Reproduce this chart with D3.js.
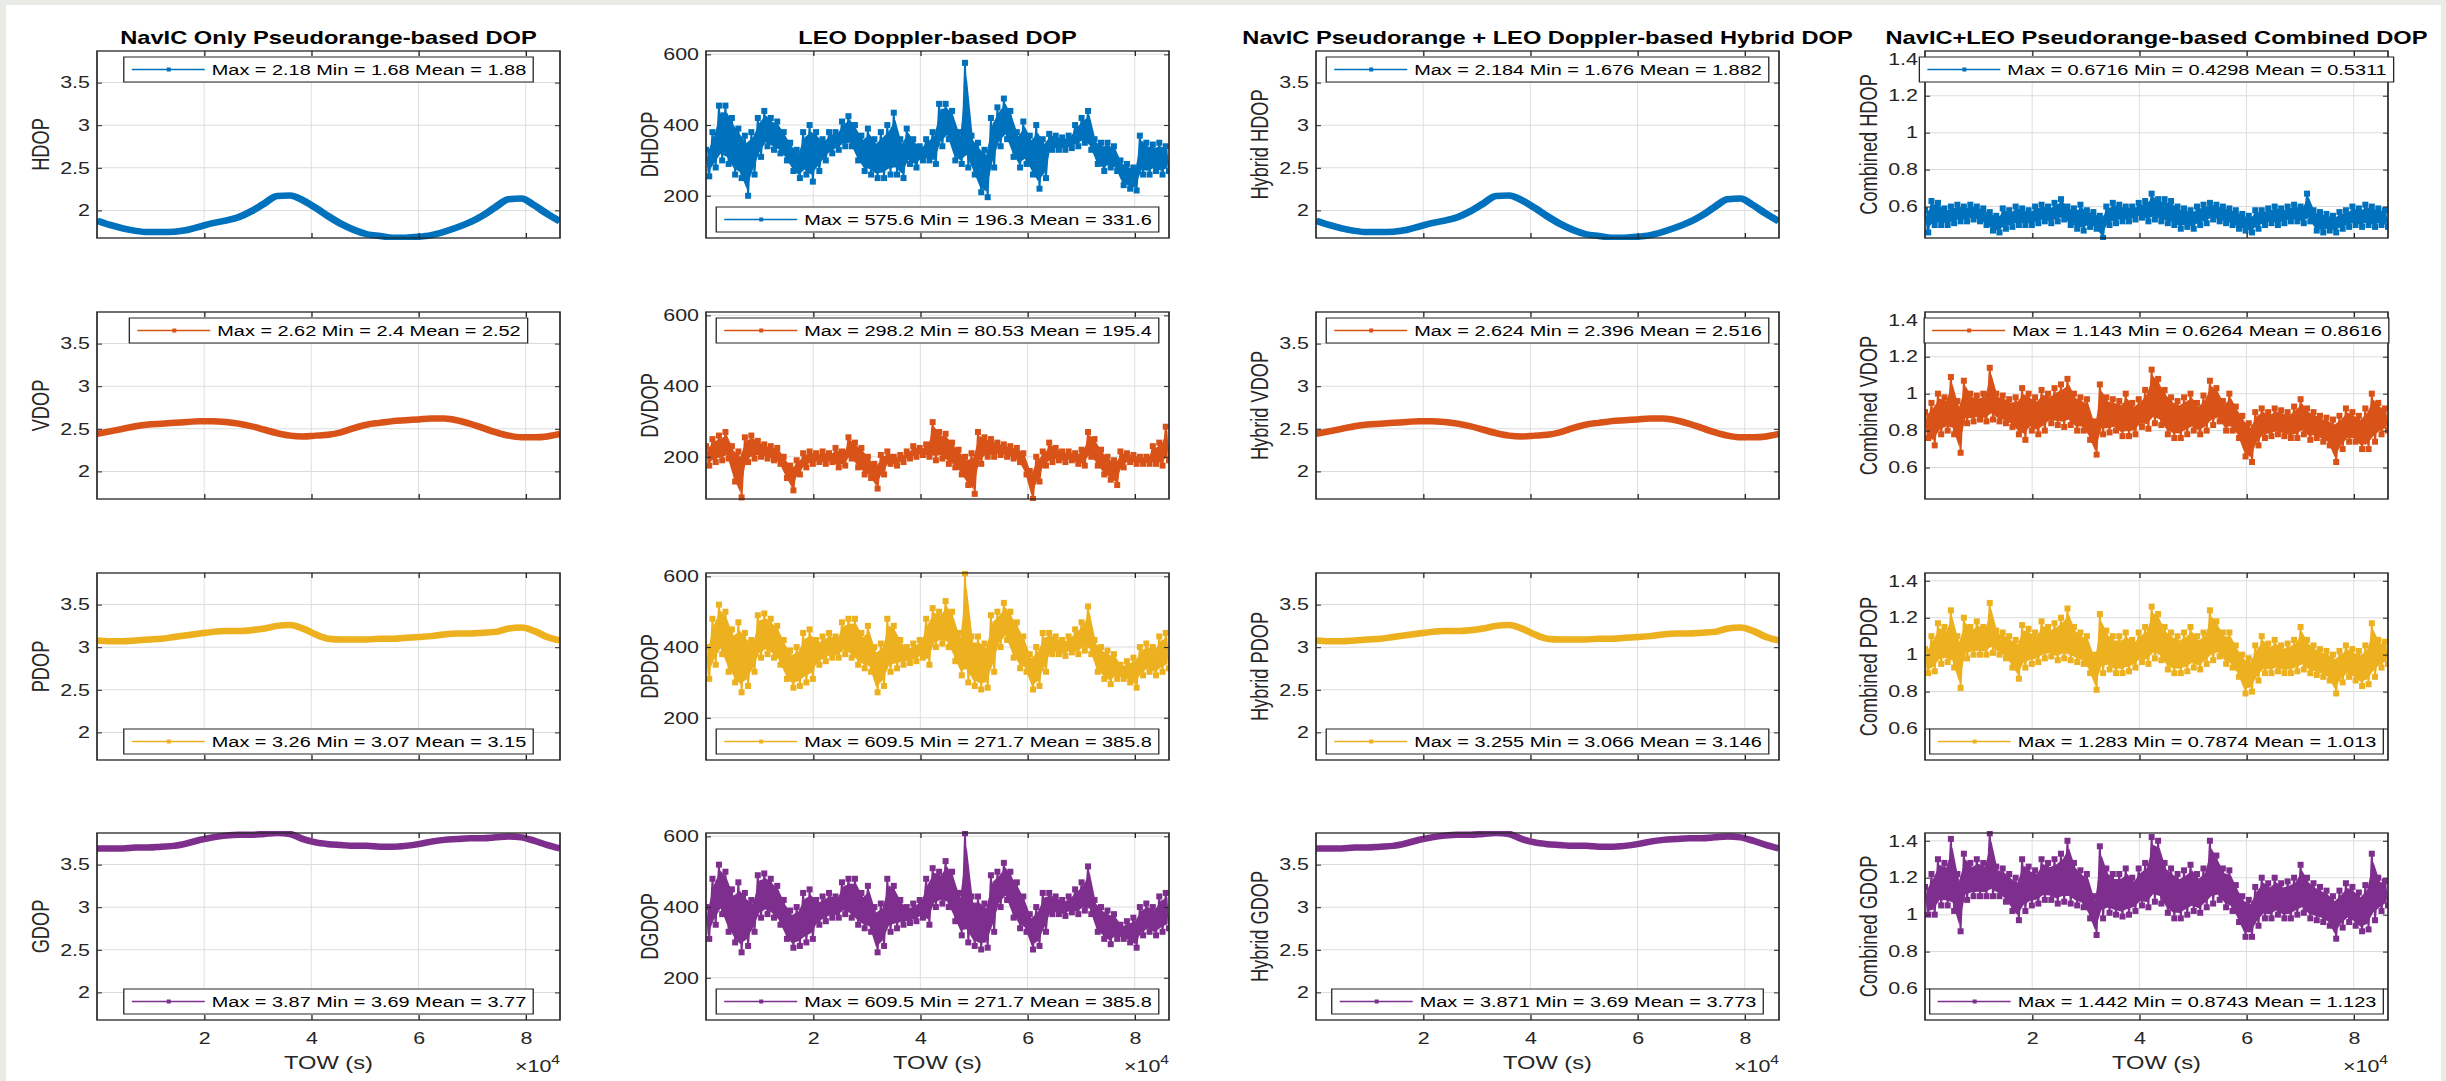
<!DOCTYPE html>
<html>
<head>
<meta charset="utf-8">
<script src="https://cdn.jsdelivr.net/npm/d3@7/dist/d3.min.js"></script>
<style>
body { margin: 0; background: #fff; }
svg { display: block; font-family: "Liberation Sans", Arial, Helvetica, sans-serif; }
</style>
</head>
<body>
<svg id="fig" width="2446" height="1081"></svg>
<script>
// ---- data ----
let colTitles = ['NavIC Only Pseudorange-based DOP', 'LEO Doppler-based DOP',
	'NavIC Pseudorange + LEO Doppler-based Hybrid DOP', 'NavIC+LEO Pseudorange-based Combined DOP'];

let yLabels = [
	['HDOP', 'VDOP', 'PDOP', 'GDOP'],
	['DHDOP', 'DVDOP', 'DPDOP', 'DGDOP'],
	['Hybrid HDOP', 'Hybrid VDOP', 'Hybrid PDOP', 'Hybrid GDOP'],
	['Combined HDOP', 'Combined VDOP', 'Combined PDOP', 'Combined GDOP']
];

let legendTexts = [
	['Max = 2.18 Min = 1.68 Mean = 1.88', 'Max = 2.62 Min = 2.4 Mean = 2.52', 'Max = 3.26 Min = 3.07 Mean = 3.15', 'Max = 3.87 Min = 3.69 Mean = 3.77'],
	['Max = 575.6 Min = 196.3 Mean = 331.6', 'Max = 298.2 Min = 80.53 Mean = 195.4', 'Max = 609.5 Min = 271.7 Mean = 385.8', 'Max = 609.5 Min = 271.7 Mean = 385.8'],
	['Max = 2.184 Min = 1.676 Mean = 1.882', 'Max = 2.624 Min = 2.396 Mean = 2.516', 'Max = 3.255 Min = 3.066 Mean = 3.146', 'Max = 3.871 Min = 3.69 Mean = 3.773'],
	['Max = 0.6716 Min = 0.4298 Mean = 0.5311', 'Max = 1.143 Min = 0.6264 Mean = 0.8616', 'Max = 1.283 Min = 0.7874 Mean = 1.013', 'Max = 1.442 Min = 0.8743 Mean = 1.123']
];
// legend at bottom (1) or top (0) of each axes
let legendSouth = [[0, 0, 1, 1], [1, 0, 1, 1], [0, 0, 1, 1], [0, 0, 1, 1]];

let xTicks = [20000, 40000, 60000, 80000];
let xTickLabels = ['2', '4', '6', '8'];
let yDomains = [[1.676, 3.871], [80.53, 609.5], [1.676, 3.871], [0.4298, 1.442]];
let yTicks = [[2, 2.5, 3, 3.5], [200, 400, 600], [2, 2.5, 3, 3.5], [0.6, 0.8, 1, 1.2, 1.4]];
let colors = ['#0072BD', '#D95319', '#EDB120', '#7E2F8E'];

// smooth NavIC curves, one value every 2400 s (hybrid curves coincide with these)
let smoothTow = d3.range(37).map(i => i * 2400);
let navicHdop = [1.88, 1.83, 1.79, 1.76, 1.745, 1.745, 1.75, 1.77, 1.81, 1.85, 1.88, 1.92, 1.99, 2.08, 2.17, 2.175, 2.12, 2.03, 1.93,
	1.84, 1.77, 1.72, 1.70, 1.68, 1.68, 1.69, 1.71, 1.75, 1.80, 1.86, 1.94, 2.04, 2.13, 2.14, 2.06, 1.96, 1.87];
let navicVdop = [2.44, 2.47, 2.50, 2.53, 2.55, 2.56, 2.57, 2.58, 2.59, 2.59, 2.58, 2.56, 2.53, 2.49, 2.45, 2.42, 2.41, 2.42, 2.43,
	2.46, 2.51, 2.55, 2.57, 2.59, 2.60, 2.61, 2.62, 2.62, 2.60, 2.56, 2.51, 2.46, 2.42, 2.40, 2.40, 2.41, 2.44];
let navicPdop = [3.08, 3.07, 3.07, 3.08, 3.09, 3.10, 3.12, 3.14, 3.16, 3.18, 3.19, 3.19, 3.20, 3.22, 3.25, 3.26, 3.22, 3.15, 3.10,
	3.09, 3.09, 3.09, 3.10, 3.10, 3.11, 3.12, 3.13, 3.15, 3.16, 3.16, 3.17, 3.18, 3.22, 3.23, 3.19, 3.12, 3.08];
let navicGdop = [3.69, 3.69, 3.69, 3.70, 3.70, 3.71, 3.72, 3.75, 3.79, 3.82, 3.84, 3.85, 3.85, 3.86, 3.87, 3.86, 3.80, 3.76, 3.74,
	3.73, 3.72, 3.72, 3.71, 3.71, 3.72, 3.74, 3.77, 3.79, 3.80, 3.81, 3.81, 3.82, 3.83, 3.82, 3.78, 3.73, 3.69];

// noisy series: upper / lower sample of each 1200 s slot
let noisyTow = d3.range(144).map(i => i * 86400 / 143);
let leoDhdopHi = [330, 380, 455, 455, 420, 390, 370, 380, 420, 440, 420, 410, 380, 350, 330, 380, 400, 380, 360, 380,
	380, 410, 425, 400, 370, 390, 360, 380, 400, 435, 360, 390, 360, 340, 360, 380, 460, 460, 440, 380,
	576, 370, 350, 330, 420, 450, 475, 440, 380, 410, 370, 400, 360, 375, 370, 365, 370, 400, 420, 440,
	360, 350, 350, 340, 300, 290, 280, 370, 350, 345, 350, 340];
let leoDhdopLo = [255, 280, 300, 290, 260, 250, 200, 260, 310, 340, 330, 320, 300, 270, 250, 260, 240, 270, 300, 320,
	330, 340, 340, 300, 270, 260, 250, 250, 260, 260, 250, 290, 280, 300, 300, 290, 340, 360, 300, 290,
	280, 260, 210, 196, 280, 340, 360, 310, 280, 290, 260, 220, 250, 330, 330, 330, 335, 340, 350, 330,
	290, 270, 280, 270, 230, 220, 215, 260, 260, 270, 260, 270];
let leoDvdopHi = [230, 250, 260, 270, 230, 215, 255, 260, 245, 235, 230, 225, 200, 175, 190, 210, 215, 210, 215, 210,
	225, 215, 255, 240, 225, 200, 180, 205, 215, 200, 205, 215, 230, 225, 235, 298, 270, 265, 240, 220,
	200, 210, 270, 255, 250, 240, 235, 230, 225, 210, 160, 200, 215, 240, 225, 215, 215, 210, 220, 270,
	250, 220, 200, 190, 215, 210, 205, 200, 200, 230, 240, 285];
let leoDvdopLo = [175, 185, 190, 195, 130, 85, 185, 195, 200, 195, 190, 180, 140, 105, 150, 170, 180, 185, 180, 185,
	170, 175, 195, 170, 150, 140, 110, 150, 180, 175, 185, 195, 200, 205, 200, 190, 195, 180, 170, 150,
	120, 95, 180, 200, 200, 205, 200, 195, 185, 150, 81, 130, 175, 185, 190, 185, 190, 180, 175, 200,
	175, 150, 135, 120, 170, 185, 180, 180, 180, 180, 175, 190];
// DPDOP and DGDOP are identical in the figure
let leoDpdopHi = [400, 480, 520, 500, 450, 470, 440, 420, 490, 495, 480, 460, 420, 390, 400, 440, 450, 420, 430, 440,
	430, 470, 480, 480, 440, 460, 400, 410, 480, 460, 420, 400, 410, 420, 480, 510, 500, 530, 500, 440,
	609, 430, 430, 410, 490, 500, 525, 500, 470, 430, 380, 400, 440, 440, 430, 420, 430, 450, 470, 515,
	420, 400, 390, 380, 350, 360, 370, 400, 410, 400, 430, 440];
let leoDpdopLo = [310, 350, 380, 330, 300, 272, 290, 330, 370, 380, 370, 350, 310, 285, 290, 300, 310, 350, 360, 370,
	370, 380, 370, 350, 340, 330, 272, 290, 330, 340, 350, 355, 360, 370, 350, 400, 410, 400, 360, 320,
	300, 290, 280, 285, 330, 400, 420, 370, 340, 330, 280, 290, 330, 380, 380, 375, 385, 380, 390, 380,
	330, 310, 295, 310, 310, 300, 285, 320, 330, 320, 330, 340];

let combHdopHi = [0.58, 0.63, 0.62, 0.59, 0.60, 0.61, 0.60, 0.61, 0.60, 0.59, 0.57, 0.55, 0.59, 0.58, 0.60, 0.59, 0.58, 0.60, 0.61, 0.60,
	0.62, 0.64, 0.60, 0.59, 0.61, 0.58, 0.57, 0.55, 0.60, 0.62, 0.61, 0.60, 0.60, 0.62, 0.63, 0.67, 0.64, 0.64, 0.63, 0.60,
	0.59, 0.58, 0.60, 0.61, 0.62, 0.61, 0.60, 0.59, 0.58, 0.56, 0.55, 0.58, 0.58, 0.59, 0.60, 0.59, 0.60, 0.61, 0.60, 0.67,
	0.58, 0.57, 0.56, 0.55, 0.57, 0.58, 0.60, 0.59, 0.61, 0.60, 0.59, 0.58];
let combHdopLo = [0.46, 0.50, 0.50, 0.50, 0.51, 0.52, 0.52, 0.53, 0.52, 0.50, 0.47, 0.46, 0.48, 0.49, 0.50, 0.50, 0.50, 0.51, 0.52, 0.51,
	0.52, 0.53, 0.50, 0.48, 0.47, 0.49, 0.48, 0.43, 0.50, 0.51, 0.52, 0.52, 0.53, 0.54, 0.52, 0.53, 0.52, 0.51, 0.50, 0.48,
	0.49, 0.48, 0.50, 0.51, 0.53, 0.52, 0.51, 0.50, 0.48, 0.47, 0.46, 0.48, 0.50, 0.51, 0.50, 0.51, 0.52, 0.52, 0.51, 0.52,
	0.47, 0.46, 0.47, 0.46, 0.48, 0.49, 0.50, 0.49, 0.50, 0.49, 0.50, 0.49];
let combVdopHi = [0.90, 0.95, 1.00, 0.98, 1.09, 0.96, 1.07, 1.00, 0.99, 1.00, 1.14, 1.00, 0.99, 0.97, 0.98, 1.03, 1.00, 0.98, 1.02, 1.00,
	1.03, 1.05, 1.08, 1.00, 0.98, 0.97, 0.85, 1.05, 0.98, 0.97, 0.96, 1.00, 0.95, 0.97, 1.02, 1.13, 1.08, 1.02, 0.98, 0.96,
	0.98, 1.00, 0.95, 0.99, 1.07, 1.03, 0.96, 1.00, 0.93, 0.88, 0.84, 0.90, 0.92, 0.90, 0.92, 0.91, 0.90, 0.93, 0.97, 0.92,
	0.90, 0.88, 0.87, 0.86, 0.88, 0.92, 0.90, 0.88, 0.92, 1.00, 0.95, 0.92];
let combVdopLo = [0.76, 0.72, 0.78, 0.80, 0.78, 0.68, 0.84, 0.85, 0.86, 0.85, 0.86, 0.85, 0.84, 0.82, 0.78, 0.75, 0.80, 0.78, 0.80, 0.84,
	0.83, 0.82, 0.83, 0.80, 0.80, 0.75, 0.67, 0.78, 0.79, 0.80, 0.77, 0.77, 0.78, 0.82, 0.81, 0.84, 0.83, 0.78, 0.76, 0.76,
	0.78, 0.80, 0.78, 0.80, 0.83, 0.85, 0.80, 0.80, 0.76, 0.66, 0.63, 0.72, 0.76, 0.77, 0.78, 0.77, 0.76, 0.76, 0.78, 0.75,
	0.76, 0.74, 0.72, 0.63, 0.70, 0.74, 0.74, 0.70, 0.70, 0.74, 0.78, 0.80];
let combPdopHi = [1.03, 1.10, 1.17, 1.15, 1.24, 1.10, 1.20, 1.15, 1.18, 1.15, 1.28, 1.13, 1.12, 1.10, 1.08, 1.16, 1.14, 1.12, 1.18, 1.15,
	1.17, 1.20, 1.25, 1.15, 1.12, 1.10, 1.00, 1.22, 1.13, 1.10, 1.10, 1.12, 1.08, 1.12, 1.15, 1.26, 1.22, 1.15, 1.12, 1.10,
	1.12, 1.15, 1.10, 1.12, 1.24, 1.18, 1.12, 1.12, 1.05, 1.00, 0.98, 1.05, 1.10, 1.06, 1.08, 1.05, 1.06, 1.08, 1.15, 1.08,
	1.05, 1.03, 1.02, 1.00, 1.02, 1.05, 1.03, 1.02, 1.05, 1.17, 1.08, 1.07];
let combPdopLo = [0.90, 0.91, 0.95, 0.96, 0.93, 0.82, 0.98, 1.00, 1.00, 1.00, 1.01, 1.00, 0.98, 0.93, 0.87, 0.93, 0.95, 0.96, 0.98, 0.99,
	0.97, 0.98, 0.97, 0.96, 0.95, 0.90, 0.81, 0.90, 0.92, 0.90, 0.90, 0.91, 0.93, 0.96, 0.95, 0.98, 0.97, 0.92, 0.90, 0.90,
	0.91, 0.93, 0.92, 0.95, 0.97, 0.99, 0.95, 0.93, 0.88, 0.79, 0.80, 0.86, 0.90, 0.90, 0.91, 0.90, 0.90, 0.91, 0.92, 0.90,
	0.89, 0.88, 0.86, 0.79, 0.85, 0.88, 0.86, 0.83, 0.84, 0.88, 0.93, 0.95];
let combGdopHi = [1.15, 1.22, 1.30, 1.28, 1.41, 1.22, 1.33, 1.28, 1.30, 1.28, 1.44, 1.26, 1.25, 1.22, 1.20, 1.30, 1.26, 1.24, 1.30, 1.28,
	1.30, 1.33, 1.40, 1.28, 1.24, 1.22, 1.10, 1.37, 1.25, 1.22, 1.22, 1.25, 1.20, 1.25, 1.28, 1.42, 1.40, 1.28, 1.25, 1.22,
	1.24, 1.27, 1.22, 1.25, 1.40, 1.32, 1.25, 1.24, 1.16, 1.10, 1.08, 1.15, 1.20, 1.17, 1.20, 1.17, 1.18, 1.20, 1.27, 1.20,
	1.17, 1.15, 1.13, 1.10, 1.13, 1.17, 1.15, 1.12, 1.16, 1.33, 1.20, 1.18];
let combGdopLo = [1.00, 1.00, 1.05, 1.05, 1.02, 0.91, 1.08, 1.10, 1.10, 1.10, 1.10, 1.10, 1.07, 1.02, 0.97, 1.02, 1.05, 1.06, 1.08, 1.08,
	1.06, 1.07, 1.06, 1.05, 1.04, 0.98, 0.89, 0.98, 1.01, 1.00, 0.99, 1.00, 1.02, 1.05, 1.04, 1.07, 1.06, 1.01, 0.98, 0.98,
	1.00, 1.02, 1.01, 1.04, 1.06, 1.08, 1.04, 1.02, 0.96, 0.88, 0.88, 0.94, 0.98, 0.98, 1.00, 0.98, 0.98, 1.00, 1.01, 0.98,
	0.97, 0.96, 0.94, 0.87, 0.93, 0.96, 0.94, 0.91, 0.92, 0.97, 1.02, 1.05];

let smoothSeries = [navicHdop, navicVdop, navicPdop, navicGdop];
let noisySeries = {
	1: [[leoDhdopHi, leoDhdopLo], [leoDvdopHi, leoDvdopLo], [leoDpdopHi, leoDpdopLo], [leoDpdopHi, leoDpdopLo]],
	3: [[combHdopHi, combHdopLo], [combVdopHi, combVdopLo], [combPdopHi, combPdopLo], [combGdopHi, combGdopLo]]
};

// ---- layout ----
// the figure is stretched sideways, so everything is drawn in a squeezed frame and scaled by K
const K = 1.3;
const colLeft = [97, 706, 1316, 1925];
const rowTop = [51, 312, 573, 833];
const axW = 463 / K, axH = 187;
const ink = '#262626';

let svg = d3.select('#fig');
svg.append('rect').attr('width', 2446).attr('height', 1081).attr('fill', '#e9ebe7');
svg.append('rect').attr('x', 6).attr('y', 5).attr('width', 2435).attr('height', 1076).attr('fill', '#fff');

let fig = svg.append('g').attr('transform', `scale(${K},1)`);

let xScale = d3.scaleLinear().domain([0, 86400]).range([0, axW]);

for (let c = 0; c < 4; c++) {
	for (let r = 0; r < 4; r++) {
		let g = fig.append('g').attr('transform', `translate(${colLeft[c] / K},${rowTop[r]})`);
		let yScale = d3.scaleLinear().domain(yDomains[c]).range([axH, 0]);
		let color = colors[r];

		// grid
		g.selectAll('.gx').data(xTicks).enter().append('line')
			.attr('x1', d => xScale(d)).attr('x2', d => xScale(d))
			.attr('y1', 0).attr('y2', axH)
			.attr('stroke', '#dcdcdc').attr('stroke-width', 1 / K);
		g.selectAll('.gy').data(yTicks[c]).enter().append('line')
			.attr('x1', 0).attr('x2', axW)
			.attr('y1', d => yScale(d)).attr('y2', d => yScale(d))
			.attr('stroke', '#dcdcdc').attr('stroke-width', 1);

		// clip
		let clipId = `clip-${c}-${r}`;
		g.append('clipPath').attr('id', clipId)
			.append('rect').attr('x', 0).attr('y', -2).attr('width', axW).attr('height', axH + 4);
		let plot = g.append('g').attr('clip-path', `url(#${clipId})`);

		if (c === 0 || c === 2) {
			let vals = smoothSeries[r];
			let line = d3.line()
				.x((d, i) => xScale(smoothTow[i]))
				.y(d => yScale(d))
				.curve(d3.curveMonotoneX);
			plot.append('path')
				.attr('d', line(vals))
				.attr('fill', 'none')
				.attr('stroke', color)
				.attr('stroke-width', 6.5)
				.attr('stroke-linejoin', 'round');
		} else {
			let [hi, lo] = noisySeries[c][r];
			let pts = [];
			hi.forEach((h, i) => {
				pts.push({ t: noisyTow[2 * i], v: h });
				pts.push({ t: noisyTow[2 * i + 1], v: lo[i] });
			});
			let bins = hi.map((h, i) => ({ t: (noisyTow[2 * i] + noisyTow[2 * i + 1]) / 2, hi: h, lo: lo[i] }));

			// dense core of the band, the outer samples poke out of it
			let area = d3.area()
				.x(d => xScale(d.t))
				.y0(d => yScale(d.lo + 0.12 * (d.hi - d.lo)))
				.y1(d => yScale(d.hi - 0.12 * (d.hi - d.lo)));
			plot.append('path')
				.attr('d', area(bins))
				.attr('fill', color);

			let line = d3.line().x(d => xScale(d.t)).y(d => yScale(d.v));
			plot.append('path')
				.attr('d', line(pts))
				.attr('fill', 'none')
				.attr('stroke', color)
				.attr('stroke-width', 1.4);

			let ms = 6;
			plot.selectAll('.mk').data(pts).enter().append('rect')
				.attr('x', d => xScale(d.t) - ms / K / 2)
				.attr('y', d => yScale(d.v) - ms / 2)
				.attr('width', ms / K)
				.attr('height', ms)
				.attr('fill', color);
		}

		// axes (ticks point inward, box on)
		let bottom = d3.axisBottom(xScale).tickValues(xTicks).tickSizeInner(-5).tickSizeOuter(0).tickPadding(12)
			.tickFormat((d, i) => r === 3 ? xTickLabels[i] : '');
		let gb = g.append('g').attr('transform', `translate(0,${axH})`).attr('color', ink).call(bottom);
		gb.select('.domain').remove();
		gb.selectAll('text').attr('font-size', 16.5).attr('font-family', null);

		let gt = g.append('g').attr('color', ink)
			.call(d3.axisTop(xScale).tickValues(xTicks).tickSizeInner(-5).tickSizeOuter(0).tickFormat(''));
		gt.select('.domain').remove();

		let gl = g.append('g').attr('color', ink)
			.call(d3.axisLeft(yScale).tickValues(yTicks[c]).tickSizeInner(-5 / K).tickSizeOuter(0)
				.tickPadding(7 / K).tickFormat(d3.format('~g')));
		gl.select('.domain').remove();
		gl.selectAll('text').attr('font-size', 16.5).attr('font-family', null);

		let gr = g.append('g').attr('transform', `translate(${axW},0)`).attr('color', ink)
			.call(d3.axisRight(yScale).tickValues(yTicks[c]).tickSizeInner(-5 / K).tickSizeOuter(0).tickFormat(''));
		gr.select('.domain').remove();

		g.append('rect')
			.attr('width', axW).attr('height', axH)
			.attr('fill', 'none').attr('stroke', ink).attr('stroke-width', 1.3);

		// y label
		g.append('text')
			.attr('transform', `translate(${-56 / K},${axH / 2}) rotate(-90)`)
			.attr('text-anchor', 'middle')
			.attr('dominant-baseline', 'central')
			.attr('font-size', 18.2)
			.attr('fill', ink)
			.text(yLabels[c][r]);

		// title on top row
		if (r === 0) {
			g.append('text')
				.attr('x', axW / 2).attr('y', -7)
				.attr('text-anchor', 'middle')
				.attr('font-size', 18.2)
				.attr('font-weight', 'bold')
				.attr('fill', '#000')
				.text(colTitles[c]);
		}

		// x label and exponent on bottom row
		if (r === 3) {
			g.append('text')
				.attr('x', axW / 2).attr('y', axH + 49)
				.attr('text-anchor', 'middle')
				.attr('font-size', 18.2)
				.attr('fill', ink)
				.text('TOW (s)');
			let ex = g.append('text')
				.attr('x', axW).attr('y', axH + 52)
				.attr('text-anchor', 'end')
				.attr('font-size', 16.5)
				.attr('fill', ink);
			ex.append('tspan').text('\u00d710');
			ex.append('tspan').attr('font-size', 12).attr('dy', -8).text('4');
		}

		// legend
		let lg = g.append('g');
		let lh = 25;
		let ly = legendSouth[c][r] ? axH - 6 - lh : 6;
		let lt = lg.append('text')
			.attr('y', ly + lh / 2)
			.attr('dominant-baseline', 'central')
			.attr('font-size', 15.3)
			.attr('fill', '#000')
			.text(legendTexts[c][r]);
		let tw = lt.node().getComputedTextLength();
		let lw = 88 / K + tw + 7 / K;
		let lx = (axW - lw) / 2;
		lt.attr('x', lx + 88 / K);
		lg.insert('rect', 'text')
			.attr('x', lx).attr('y', ly).attr('width', lw).attr('height', lh)
			.attr('fill', '#fff').attr('stroke', ink).attr('stroke-width', 1);
		lg.insert('line', 'text')
			.attr('x1', lx + 8 / K).attr('x2', lx + 81 / K)
			.attr('y1', ly + lh / 2).attr('y2', ly + lh / 2)
			.attr('stroke', color).attr('stroke-width', 1.5);
		lg.insert('rect', 'text')
			.attr('x', lx + 45 / K - 2 / K).attr('y', ly + lh / 2 - 2)
			.attr('width', 4 / K).attr('height', 4)
			.attr('fill', color);
	}
}
</script>
</body>
</html>
